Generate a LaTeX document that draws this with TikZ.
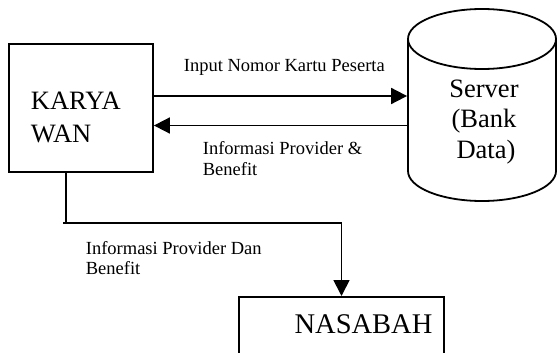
\documentclass[tikz,border=0pt]{standalone}
\usepackage{fontspec}
\setmainfont{Liberation Serif}
\usetikzlibrary{arrows.meta}
\begin{document}
\begin{tikzpicture}[x=1pt,y=-1pt,line width=1.8pt,
  boxst/.style={draw,rectangle,inner sep=0pt},
  bigtxt/.style={font=\fontsize{26.5}{30}\selectfont,inner sep=0pt},
  smalltxt/.style={font=\fontsize{18.5}{20.5}\selectfont,inner sep=0pt,anchor=base west},
  flow/.style={-{Triangle[length=16pt,width=16pt]}}]
\useasboundingbox (0,0) rectangle (557,353);
\clip (0,0) rectangle (557,353);
% KARYAWAN
\node[boxst,minimum width=144pt,minimum height=128pt] (karyawan) at (81,108) {};
\node[bigtxt,anchor=base west] (k1) at (30,110) {KARYA};
\node[bigtxt,anchor=base west] (k2) at (30,142) {WAN};
% Server cylinder
\node[inner sep=0pt,minimum width=148pt,minimum height=192pt] (server) at (482,105) {};
\draw (408,39) arc[start angle=180,end angle=-180,x radius=74,y radius=30];
\draw (408,39) -- (408,171) arc[start angle=180,end angle=0,x radius=74,y radius=30] -- (556,39);
\node[bigtxt,anchor=base] (s1) at (484,98) {Server};
\node[bigtxt,anchor=base] (s2) at (484,128) {(Bank};
\node[bigtxt,anchor=base] (s3) at (486,158) {Data)};
% NASABAH
\node[boxst,minimum width=205pt,minimum height=90pt,anchor=north] (nasabah) at (341.5,296) {};
\node[font=\fontsize{28.5}{32}\selectfont,inner sep=0pt,anchor=base] (n1) at (363.5,333) {NASABAH};
% connectors
\draw[flow] (karyawan.east |- 0,96) -- (server.west |- 0,96);
\draw[flow] (server.west |- 0,125.5) -- (karyawan.east |- 0,125.5);
\coordinate (bend) at (63,223);
\draw ([xshift=-15pt]karyawan.south) -- (bend -| 66,0);
\draw[flow] (bend) -| (nasabah.north);
% labels
\node[smalltxt] (l1) at (183,71.7) {Input Nomor Kartu Peserta};
\node[smalltxt] (l2) at (202,154.7) {Informasi Provider \&};
\node[smalltxt] (l3) at (202,175.3) {Benefit};
\node[smalltxt] (l4) at (85,254.7) {Informasi Provider Dan};
\node[smalltxt] (l5) at (85,274.7) {Benefit};
\end{tikzpicture}
\end{document}
